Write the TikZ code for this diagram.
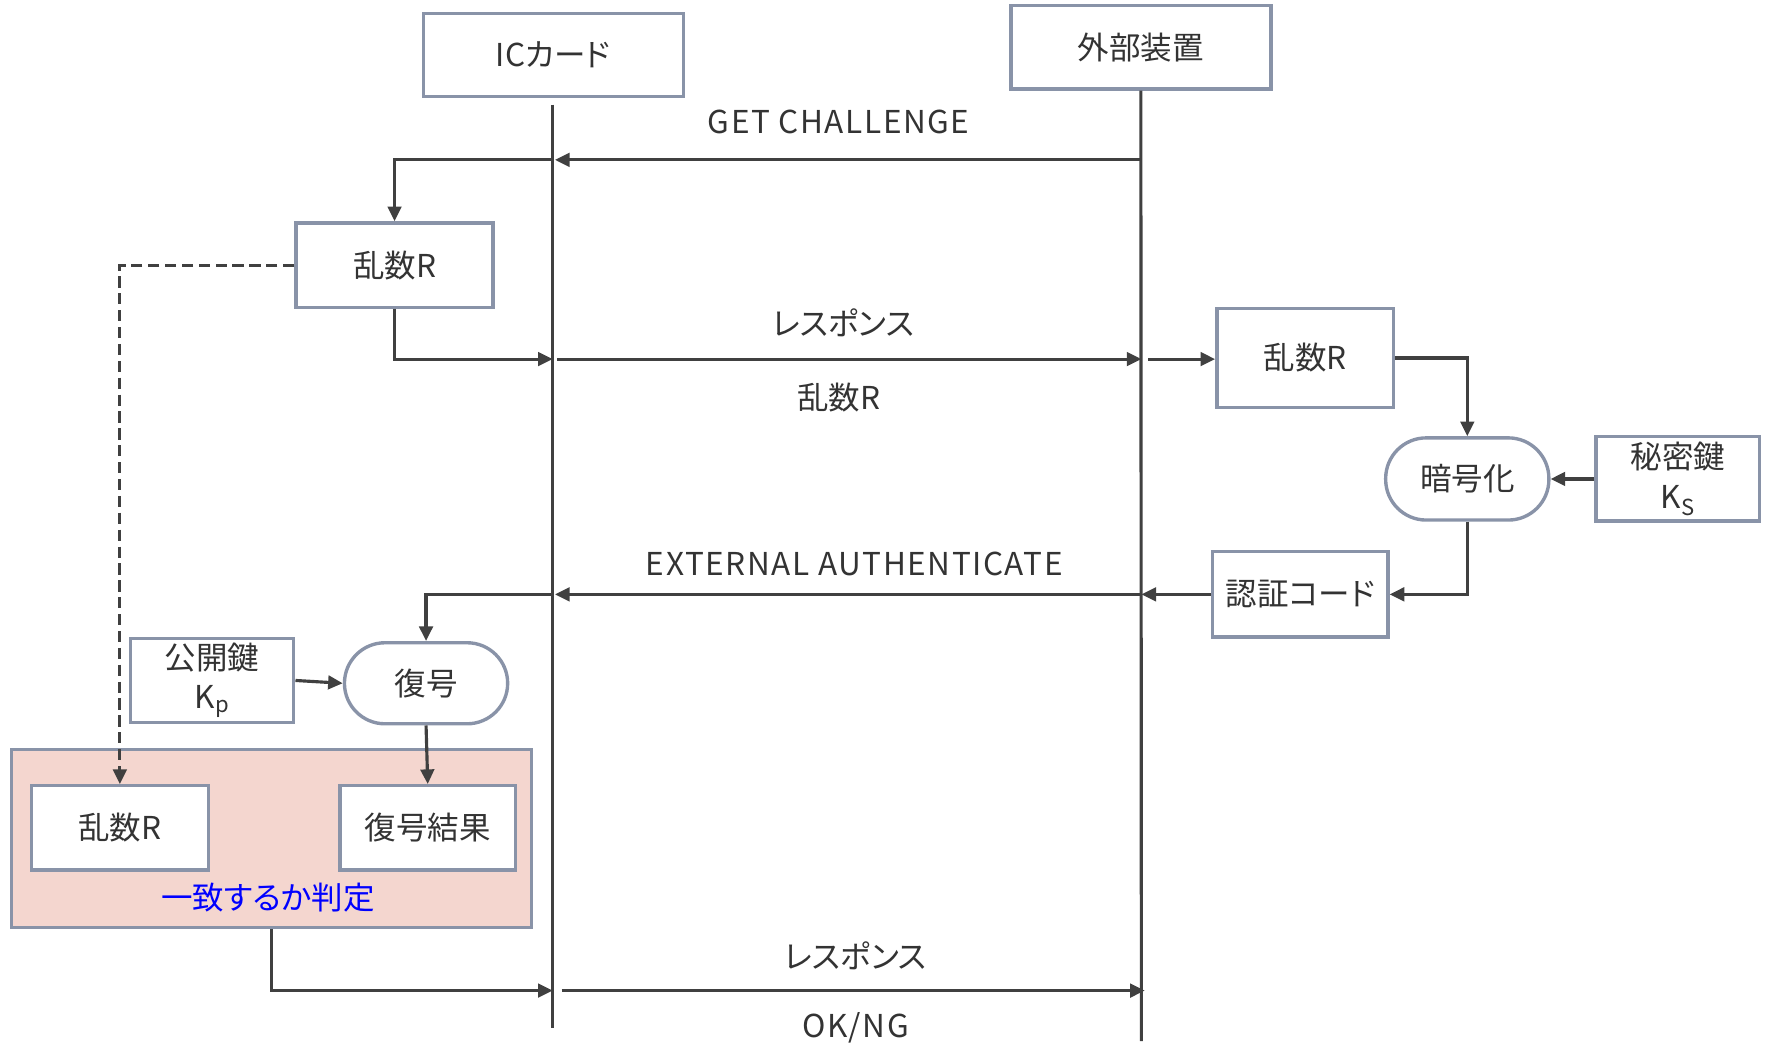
\documentclass[tikz,border=0pt]{standalone}
\usepackage{fontspec}
\setmainfont{Noto Sans CJK JP}[RawFeature=+palt]
\usetikzlibrary{arrows.meta}
\definecolor{boxc}{RGB}{137,147,168}
\definecolor{arrc}{RGB}{64,64,64}
\definecolor{txtc}{RGB}{51,51,51}
\definecolor{pinkc}{RGB}{244,214,207}
\newcommand{\wide}{\addfontfeature{LetterSpace=5}}
\begin{document}
\begin{tikzpicture}[x=1pt,y=-1pt,
  every node/.style={text=txtc, font=\fontsize{28}{35}\selectfont},
  bx/.style={draw=boxc, line width=3pt, fill=white, inner sep=0pt, align=center},
  stad/.style={bx, rounded corners=36pt},
  arr/.style={draw=arrc, line width=2.8pt, -{Triangle[length=13pt,width=12pt]}},
  ln/.style={draw=arrc, line width=2.8pt},
  lbl/.style={inner sep=0pt}]
\useasboundingbox (0,0) rectangle (1568,927);
% headers
\node[bx, minimum width=231pt, minimum height=74pt] (ic) at (491.5,49) {ICカード};
\node[bx, minimum width=231pt, minimum height=74pt] (ext) at (1013.5,42) {外部装置};
% lifelines
\coordinate (Ltop) at (491,93);
\coordinate (Lbot) at (491,913);
\coordinate (Rbot) at (1014,925);
\draw[ln] (Ltop) -- (Lbot);
\draw[ln] (ext.south) -- (Rbot);
% container
\node[draw=boxc, line width=3pt, fill=pinkc, minimum width=462pt, minimum height=158pt, inner sep=0pt] (cont) at (241,745) {};
% boxes
\node[bx, minimum width=175pt, minimum height=75pt] (r1) at (350.5,235.5) {乱数R};
\node[bx, minimum width=157pt, minimum height=88pt] (r2) at (1159.5,318) {乱数R};
\node[stad, minimum width=145pt, minimum height=73pt] (enc) at (1303.5,425.5) {暗号化};
\node[bx, minimum width=145pt, minimum height=75pt] (ks) at (1490.5,425.5) {秘密鍵\\K\textsubscript{S}};
\node[bx, minimum width=156pt, minimum height=76pt] (auth) at (1155,528) {認証コード};
\node[stad, minimum width=145pt, minimum height=72pt] (dec) at (378.5,607) {復号};
\node[bx, minimum width=145pt, minimum height=75pt] (kp) at (188.5,604.5) {公開鍵\\K\textsubscript{p}};
\node[bx, minimum width=157pt, minimum height=75pt] (r3) at (106.5,735.5) {乱数R};
\node[bx, minimum width=156pt, minimum height=75pt] (res) at (380,735.5) {復号結果};
\node[lbl, text=blue] (judge) at (238,797) {一致するか判定};
% labels
\node[lbl] (tgc) at (745,108) {\wide GET CHALLENGE};
\node[lbl] (tr1) at (749,287) {レスポンス};
\node[lbl] (tr1b) at (745,353) {乱数R};
\node[lbl] (tea) at (759,501) {\wide EXTERNAL AUTHENTICATE};
\node[lbl] (tr2) at (760,849) {レスポンス};
\node[lbl] (tok) at (760,913) {\wide OK/NG};
% GET CHALLENGE
\coordinate (g1) at (1014,142);
\coordinate (g2) at (491,142);
\draw[arr, shorten >=2pt] (g1) -- (g2);
\draw[arr] (g2) -| (r1.north);
\draw[arr, dash pattern=on 10pt off 5pt] (r1.west) -| (r3.north);
% response 1
\coordinate (p1) at (491,319);
\coordinate (p2) at (1014,319);
\draw[arr] (r1.south) |- (p1);
\draw[arr, shorten <=4pt] (p1) -- (p2);
\draw[arr, shorten <=6pt] (p2) -- (p2 -| r2.west);
\draw[arr] (r2.east) -| (enc.north);
\draw[arr] (ks.west) -- (enc.east);
\draw[arr] (enc.south) |- (auth.east);
% external authenticate
\coordinate (e1) at (1014,528);
\coordinate (e2) at (491,528);
\draw[arr] (auth.west) -- (e1);
\draw[arr, shorten >=2pt] (e1) -- (e2);
\draw[arr] (e2) -| (dec.north);
\draw[arr] (kp.east) -- (dec.west);
\draw[arr] (dec.south) -- (res.north);
% final response
\coordinate (f1) at (491,880);
\coordinate (f2) at (1017,880);
\draw[arr] (cont.south) |- (f1);
\draw[arr, shorten <=8pt] (f1) -- (f2);
\end{tikzpicture}
\end{document}
